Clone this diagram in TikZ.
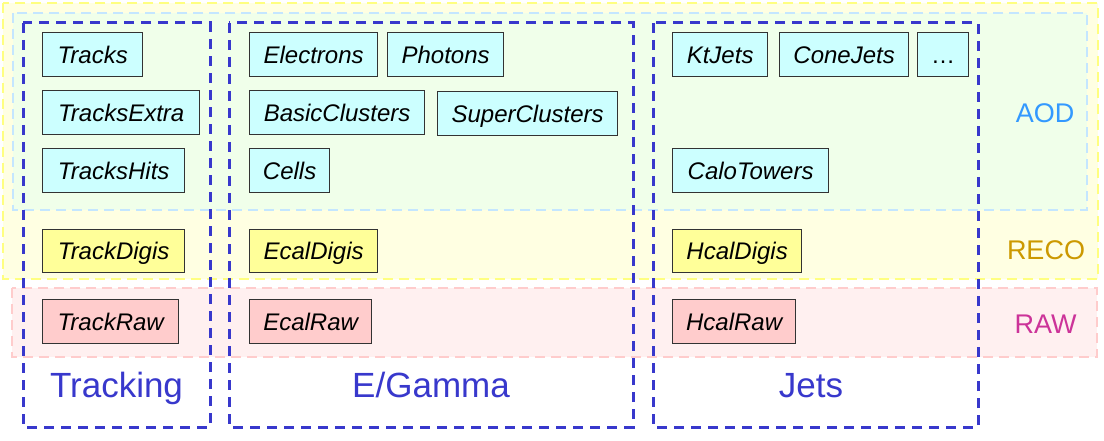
\documentclass[tikz,border=0pt]{standalone}
\usepackage{fontspec}
\setmainfont{Liberation Sans}
\definecolor{aodfill}{HTML}{F0FFEA}
\definecolor{aodline}{HTML}{C4E6FF}
\definecolor{recofill}{HTML}{FFFFE2}
\definecolor{recoline}{HTML}{FFFF80}
\definecolor{rawfill}{HTML}{FFF0F0}
\definecolor{rawline}{HTML}{FFCCCC}
\definecolor{colblue}{HTML}{3838CC}
\definecolor{cyanbox}{HTML}{CCFFFF}
\definecolor{yelbox}{HTML}{FFFF99}
\definecolor{pinkbox}{HTML}{FFCCCC}
\definecolor{boxline}{HTML}{333333}
\definecolor{aodtxt}{HTML}{3399FF}
\definecolor{recotxt}{HTML}{CC9900}
\definecolor{rawtxt}{HTML}{CC3399}
\tikzset{
  layer/.style={line width=2pt, dash pattern=on 10pt off 6pt},
  colbox/.style={draw=colblue, line width=3pt, dash pattern=on 10pt off 7pt},
  item/.style={draw=boxline, line width=1.3pt, anchor=north west, minimum height=44, inner sep=0pt,
    text height=17.2pt, text depth=0pt,
    font=\fontsize{24}{26}\selectfont\itshape},
  aoditem/.style={item, fill=cyanbox},
  recoitem/.style={item, fill=yelbox, minimum height=43},
  rawitem/.style={item, fill=pinkbox},
  grouplabel/.style={anchor=base, text=colblue, font=\fontsize{35}{38}\selectfont, inner sep=0pt},
  layerlabel/.style={anchor=base, font=\fontsize{27}{30}\selectfont, inner sep=0pt}
}
\begin{document}
\begin{tikzpicture}[x=1pt,y=-1pt]
\useasboundingbox (0,0) rectangle (1104,441);
% layer backgrounds
\fill[recofill] (3,3) rectangle (1098,279);
\fill[aodfill] (13,13) rectangle (1087,210);
\fill[rawfill] (12,288) rectangle (1097,357);
\draw[layer, draw=recoline] (3,3) rectangle (1098,279);
\draw[layer, draw=aodline] (13,13) rectangle (1087,210);
\draw[layer, draw=rawline] (12,288) rectangle (1097,357);
% column boxes
\draw[colbox] (23,23) rectangle (210,427);
\draw[colbox] (229,23) rectangle (633,427);
\draw[colbox] (653,23) rectangle (978,427);
% AOD items
\node[aoditem, minimum width=100] (tracks) at (42,32) {Tracks};
\node[aoditem, minimum width=157] (tracksextra) at (42,90) {TracksExtra};
\node[aoditem, minimum width=142] (trackshits) at (42,148) {TracksHits};
\node[aoditem, minimum width=128] (electrons) at (249,32) {Electrons};
\node[aoditem, minimum width=116] (photons) at (387,32) {Photons};
\node[aoditem, minimum width=175] (basicclusters) at (249,90) {BasicClusters};
\node[aoditem, minimum width=180] (superclusters) at (437,91) {SuperClusters};
\node[aoditem, minimum width=80] (cells) at (249,148) {Cells};
\node[aoditem, minimum width=95] (ktjets) at (672,32) {KtJets};
\node[aoditem, minimum width=129] (conejets) at (779,32) {ConeJets};
\node[aoditem, minimum width=51] (more) at (917,32) {\textup{\dots}};
\node[aoditem, minimum width=156] (calotowers) at (672,148) {CaloTowers};
% RECO items
\node[recoitem, minimum width=142] (trackdigis) at (42,229) {TrackDigis};
\node[recoitem, minimum width=128] (ecaldigis) at (249,229) {EcalDigis};
\node[recoitem, minimum width=129] (hcaldigis) at (672,229) {HcalDigis};
% RAW items
\node[rawitem, minimum width=136] (trackraw) at (42,299) {TrackRaw};
\node[rawitem, minimum width=122] (ecalraw) at (249,299) {EcalRaw};
\node[rawitem, minimum width=123] (hcalraw) at (672,299) {HcalRaw};
% group labels
\node[grouplabel] (tracking) at (116.5,397) {Tracking};
\node[grouplabel] (egamma) at (431,397) {E/Gamma};
\node[grouplabel] (jets) at (811,397) {Jets};
% layer labels
\node[layerlabel, text=aodtxt] (aod) at (1045,123) {AOD};
\node[layerlabel, text=recotxt] (reco) at (1046,259) {RECO};
\node[layerlabel, text=rawtxt] (raw) at (1045.5,333) {RAW};
\end{tikzpicture}
\end{document}
